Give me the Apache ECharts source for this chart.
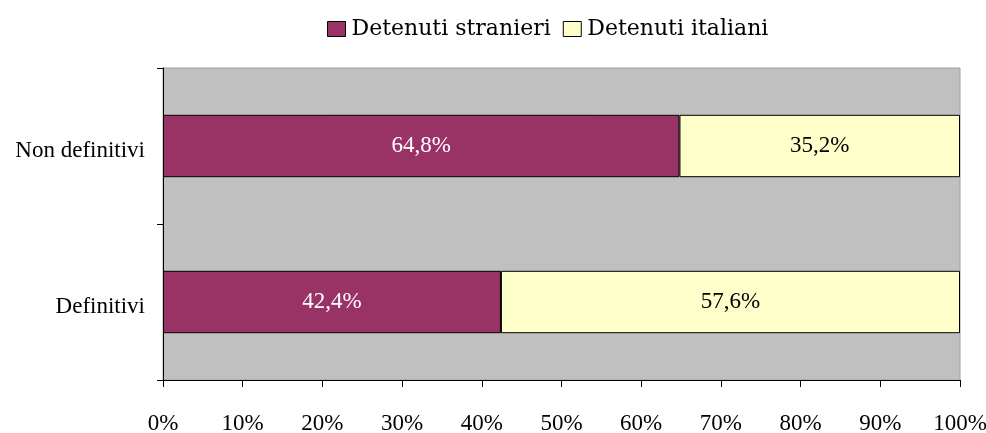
<!DOCTYPE html>
<html>
<head>
<meta charset="utf-8">
<script src="https://cdn.jsdelivr.net/npm/echarts@6/dist/echarts.min.js"></script>
<style>
html,body{margin:0;padding:0;background:#fff;}
#chart{width:986px;height:433px;}
</style>
</head>
<body>
<div id="chart"></div>
<script>
// Ripartizione dei detenuti per posizione giuridica
const categories = ['Definitivi', 'Non definitivi'];
const stranieri = [42.4, 64.8];
const italiani = [57.6, 35.2];
const xTicks = [0, 10, 20, 30, 40, 50, 60, 70, 80, 90, 100];

const serif = 'Liberation Serif';
const fmt = v => v.toFixed(1).replace('.', ',') + '%';

const chart = echarts.init(document.getElementById('chart'));
chart.setOption({
  animation: false,
  legend: {
    top: 13,
    left: 322,
    itemWidth: 18,
    itemHeight: 15,
    itemGap: 12,
    icon: 'rect',
    textStyle: { fontFamily: 'DejaVu Serif', fontSize: 22, color: '#000', padding: [0, 0, 0, 1] },
    data: [
      { name: 'Detenuti stranieri', itemStyle: { borderColor: '#000', borderWidth: 1 } },
      { name: 'Detenuti italiani', itemStyle: { borderColor: '#000', borderWidth: 1 } }
    ]
  },
  grid: {
    left: 163, right: 26, top: 68, bottom: 53,
    outerBoundsMode: 'none',
    show: true,
    backgroundColor: '#C0C0C0',
    borderColor: '#a0a0a0',
    borderWidth: 1
  },
  xAxis: {
    type: 'value',
    min: 0, max: 100, interval: 10,
    axisLine: { show: true, lineStyle: { color: '#000' } },
    axisTick: { show: true, length: 7, lineStyle: { color: '#000' } },
    splitLine: { show: false },
    axisLabel: {
      margin: 32,
      fontFamily: serif, fontSize: 23, color: '#000',
      formatter: v => xTicks.includes(v) ? v + '%' : ''
    }
  },
  yAxis: {
    type: 'category',
    data: categories,
    axisLine: { show: true, lineStyle: { color: '#000' } },
    axisTick: { show: true, length: 6, lineStyle: { color: '#000' } },
    axisLabel: {
      margin: 18, color: '#000',
      formatter: v => '{c|' + v + '}',
      rich: { c: { fontFamily: serif, fontSize: 23, color: '#000', padding: [10, 0, 0, 0] } }
    }
  },
  series: [
    {
      name: 'Detenuti stranieri',
      type: 'bar',
      stack: 'tot',
      barWidth: '40%',
      data: stranieri,
      itemStyle: { color: '#993366', borderColor: '#000', borderWidth: 1 },
      label: {
        show: true, position: 'inside', color: '#fff',
        fontFamily: serif, fontSize: 23,
        formatter: p => fmt(p.value)
      }
    },
    {
      name: 'Detenuti italiani',
      type: 'bar',
      stack: 'tot',
      barWidth: '40%',
      data: italiani,
      itemStyle: { color: '#FFFFCC', borderColor: '#000', borderWidth: 1 },
      label: {
        show: true, position: 'inside', color: '#000',
        fontFamily: serif, fontSize: 23,
        formatter: p => fmt(p.value)
      }
    }
  ]
});
</script>
</body>
</html>
